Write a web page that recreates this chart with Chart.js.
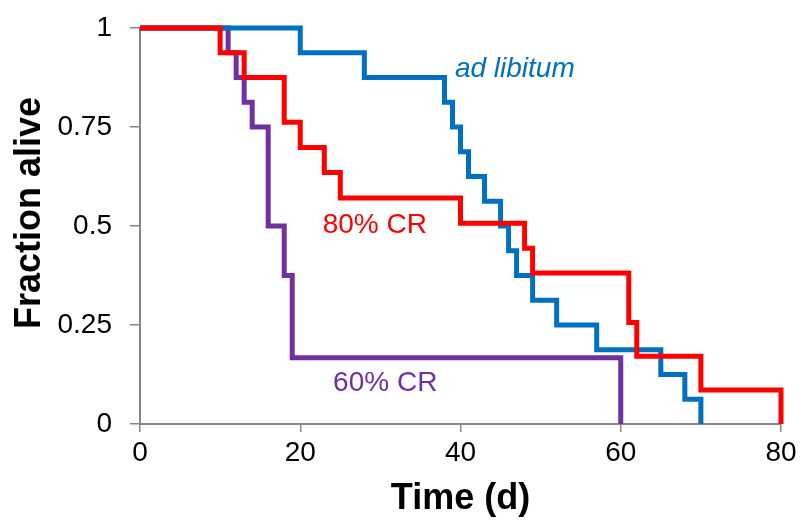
<!DOCTYPE html>
<html>
<head>
<meta charset="utf-8">
<script src="https://cdn.jsdelivr.net/npm/chart.js@4/dist/chart.umd.min.js"></script>
<style>
    html, body { margin: 0; padding: 0; background: #fff; }
    #wrap { width: 803px; height: 529px; }
</style>
</head>
<body>
<div id="wrap"><canvas id="survival" width="803" height="529"></canvas></div>
<script>
// Kaplan-Meier style survival (time in days, fraction alive)
const adLibTimes = [0, 20, 28, 38, 39, 40, 41, 43, 45, 46, 47, 49, 52, 57, 65, 68, 70];
const adLibAlive = [1, 0.9375, 0.875, 0.8125, 0.75, 0.6875, 0.625, 0.5625, 0.5, 0.4375, 0.375, 0.3125, 0.25, 0.1875, 0.125, 0.0625, 0];

const cr80Times = [0, 10, 13, 18, 20, 23, 25, 40, 48, 49, 61, 62, 70, 80];
const cr80Alive = [1, 0.9375, 0.875, 0.762, 0.698, 0.635, 0.571, 0.507, 0.444, 0.381, 0.256, 0.171, 0.086, 0];

const cr60Times = [0, 11, 12, 13, 14, 16, 18, 19, 60];
const cr60Alive = [1, 0.9375, 0.875, 0.8125, 0.75, 0.5, 0.375, 0.167, 0];

const seriesNames = ['80% CR', 'ad libitum', '60% CR'];
const xTicks = [0, 20, 40, 60, 80];
const yTicks = [0, 0.25, 0.5, 0.75, 1];

const colors = { adLib: '#0070c0', cr80: '#ff0000', cr60: '#7030a0' };
const axisColor = '#868686';
const fontFamily = '"Liberation Sans", Arial, sans-serif';

const toPoints = (times, alive) => times.map((t, i) => ({ x: t, y: alive[i] }));

// where the in-plot series labels sit (data coordinates, left edge / vertical middle)
const labelSpots = [
    { text: seriesNames[1], x: 39.3, y: 0.895, color: colors.adLib, italic: true },
    { text: seriesNames[0], x: 22.8, y: 0.502, color: colors.cr80, italic: false },
    { text: seriesNames[2], x: 24.1, y: 0.102, color: colors.cr60, italic: false },
];

const seriesLabelPlugin = {
    id: 'seriesLabels',
    afterDatasetsDraw(chart) {
        const { ctx, scales } = chart;
        ctx.save();
        ctx.textAlign = 'left';
        ctx.textBaseline = 'middle';
        labelSpots.forEach((spot) => {
            ctx.font = `${spot.italic ? 'italic ' : ''}28px ${fontFamily}`;
            ctx.fillStyle = spot.color;
            ctx.fillText(spot.text, scales.x.getPixelForValue(spot.x), scales.y.getPixelForValue(spot.y));
        });

        // y axis title sits a bit above the plot's middle in the original
        ctx.translate(30, 213);
        ctx.rotate(-Math.PI / 2);
        ctx.textAlign = 'center';
        ctx.font = `bold 36px ${fontFamily}`;
        ctx.fillStyle = '#000';
        ctx.fillText('Fraction alive', 0, 0);
        ctx.restore();
    },
};

const lineStyle = (color) => ({
    borderColor: color,
    backgroundColor: color,
    borderWidth: 5,
    pointRadius: 0,
    stepped: true,
    fill: false,
    clip: false,
    borderJoinStyle: 'miter',
    borderCapStyle: 'butt',
});

new Chart(document.getElementById('survival'), {
    type: 'line',
    data: {
        datasets: [
            { label: seriesNames[0], data: toPoints(cr80Times, cr80Alive), ...lineStyle(colors.cr80) },
            { label: seriesNames[1], data: toPoints(adLibTimes, adLibAlive), ...lineStyle(colors.adLib) },
            { label: seriesNames[2], data: toPoints(cr60Times, cr60Alive), ...lineStyle(colors.cr60) },
        ],
    },
    options: {
        responsive: false,
        animation: false,
        layout: { padding: { left: 0, right: 22, top: 28, bottom: 0 } },
        plugins: {
            legend: { display: false },
            tooltip: { enabled: false },
        },
        scales: {
            x: {
                type: 'linear',
                min: 0,
                max: 80,
                afterBuildTicks: (scale) => { scale.ticks = xTicks.map((v) => ({ value: v })); },
                afterFit: (scale) => { scale.height = 105; },
                grid: { drawOnChartArea: false, drawTicks: true, tickLength: 8, color: axisColor, lineWidth: 1.5 },
                border: { display: true, color: axisColor, width: 2 },
                ticks: { color: '#000', padding: 4, maxRotation: 0, font: { family: fontFamily, size: 28 } },
                title: {
                    display: true,
                    text: 'Time (d)',
                    color: '#000',
                    padding: { top: 0, bottom: 8 },
                    font: { family: fontFamily, size: 36, weight: 'bold' },
                },
            },
            y: {
                type: 'linear',
                min: 0,
                max: 1,
                afterBuildTicks: (scale) => { scale.ticks = yTicks.map((v) => ({ value: v })); },
                afterFit: (scale) => {
                    scale.width = 140;
                    scale.paddingTop = 0;
                    scale.paddingBottom = 0;
                },
                grid: { drawOnChartArea: false, drawTicks: true, tickLength: 10, color: axisColor, lineWidth: 1.5 },
                border: { display: true, color: axisColor, width: 2 },
                ticks: { color: '#000', padding: 18, callback: (v) => String(v), font: { family: fontFamily, size: 28 } },
            },
        },
    },
    plugins: [seriesLabelPlugin],
});
</script>
</body>
</html>
